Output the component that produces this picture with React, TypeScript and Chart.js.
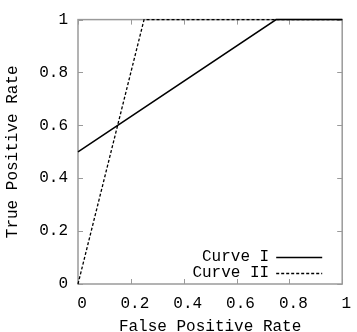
import { useEffect, useRef } from "react";
import { Chart, registerables } from "chart.js";

Chart.register(...registerables);

const curveIX = [0, 0.75, 1];
const curveIY = [0.5, 1, 1];
const curveIIX = [0, 0.25, 1];
const curveIIY = [0, 1, 1];
const xTicks = [0, 0.2, 0.4, 0.6, 0.8, 1];
const yTicks = [0, 0.2, 0.4, 0.6, 0.8, 1];
const seriesNames = ["Curve I", "Curve II"];
const xTitle = "False Positive Rate";
const yTitle = "True Positive Rate";

const FONT = "'Liberation Mono', 'Courier New', monospace";

const framePlugin = {
  id: "frame",
  beforeDatasetsDraw(chart: any) {
    const { ctx, chartArea } = chart;
    const { left, right, top, bottom } = chartArea;
    const xs = chart.scales.x;
    const ys = chart.scales.y;
    ctx.save();
    ctx.strokeStyle = "#9a9a9a";
    ctx.lineWidth = 1.5;
    ctx.strokeRect(left, top, right - left, bottom - top);
    ctx.lineWidth = 1;
    ctx.beginPath();
    xTicks.forEach((v) => {
      const px = Math.round(xs.getPixelForValue(v)) + 0.5;
      ctx.moveTo(px, bottom);
      ctx.lineTo(px, bottom - 5);
      ctx.moveTo(px, top);
      ctx.lineTo(px, top + 5);
    });
    yTicks.forEach((v) => {
      const py = Math.round(ys.getPixelForValue(v)) + 0.5;
      ctx.moveTo(left, py);
      ctx.lineTo(left + 5, py);
      ctx.moveTo(right, py);
      ctx.lineTo(right - 5, py);
    });
    ctx.stroke();
    ctx.restore();
  },
};

const legendPlugin = {
  id: "innerLegend",
  afterDraw(chart: any) {
    const { ctx, chartArea } = chart;
    const { right, bottom } = chartArea;
    ctx.save();
    ctx.font = `16px ${FONT}`;
    ctx.fillStyle = "#000";
    ctx.textAlign = "right";
    ctx.textBaseline = "middle";
    chart.data.datasets.forEach((ds: any, i: number) => {
      const y = bottom - 27 + 16 * i;
      ctx.fillText(ds.label, right - 73, y);
      ctx.beginPath();
      ctx.strokeStyle = ds.borderColor;
      ctx.lineWidth = ds.borderWidth;
      ctx.setLineDash(ds.borderDash || []);
      ctx.moveTo(right - 66, y + 0.5);
      ctx.lineTo(right - 20, y + 0.5);
      ctx.stroke();
    });
    ctx.restore();
  },
};

export default function App() {
  const ref = useRef<HTMLCanvasElement | null>(null);

  useEffect(() => {
    if (!ref.current) return;
    const chart = new Chart(ref.current, {
      type: "scatter",
      data: {
        datasets: [
          {
            label: seriesNames[0],
            data: curveIX.map((x, i) => ({ x, y: curveIY[i] })),
            showLine: true,
            borderColor: "#000",
            borderWidth: 1.5,
            pointRadius: 0,
            fill: false,
            clip: false as any,
          },
          {
            label: seriesNames[1],
            data: curveIIX.map((x, i) => ({ x, y: curveIIY[i] })),
            showLine: true,
            borderColor: "#000",
            borderWidth: 1.3,
            borderDash: [3, 2],
            pointRadius: 0,
            fill: false,
            clip: false as any,
          },
        ],
      },
      options: {
        animation: false,
        responsive: false,
        devicePixelRatio: 1,
        layout: { padding: { left: 0, top: 14, right: 9, bottom: 0 } },
        plugins: {
          legend: { display: false },
          tooltip: { enabled: false },
        },
        scales: {
          x: {
            type: "linear",
            min: 0,
            max: 1,
            afterBuildTicks: (s: any) => {
              s.ticks = xTicks.map((v) => ({ value: v }));
            },
            afterFit: (s: any) => {
              s.height = 48;
            },
            grid: { display: false, drawTicks: false },
            border: { display: false },
            ticks: {
              color: "#000",
              font: { family: FONT, size: 16 },
              padding: 10,
              labelOffset: 4,
              maxRotation: 0,
              autoSkip: false,
              callback: (v: any) => String(v),
            },
            title: {
              display: true,
              text: xTitle,
              color: "#000",
              font: { family: FONT, size: 16, lineHeight: 1 },
              padding: { top: 0, bottom: -3 },
            },
          },
          y: {
            type: "linear",
            min: 0,
            max: 1,
            afterBuildTicks: (s: any) => {
              s.ticks = yTicks.map((v) => ({ value: v }));
            },
            afterFit: (s: any) => {
              s.width = 78;
            },
            grid: { display: false, drawTicks: false },
            border: { display: false },
            ticks: {
              color: "#000",
              font: { family: FONT, size: 16 },
              padding: 10,
              autoSkip: false,
              callback: (v: any) => String(v),
            },
            title: {
              display: true,
              text: yTitle,
              color: "#000",
              font: { family: FONT, size: 16, lineHeight: 1.2 },
              padding: { top: 3, bottom: 0 },
            },
          },
        },
      },
      plugins: [framePlugin, legendPlugin],
    });
    return () => chart.destroy();
  }, []);

  return (
    <div style={{ position: "absolute", left: 0, top: 0, width: 357, height: 332 }}>
      <canvas ref={ref} width={357} height={332} style={{ display: "block" }} />
    </div>
  );
}
